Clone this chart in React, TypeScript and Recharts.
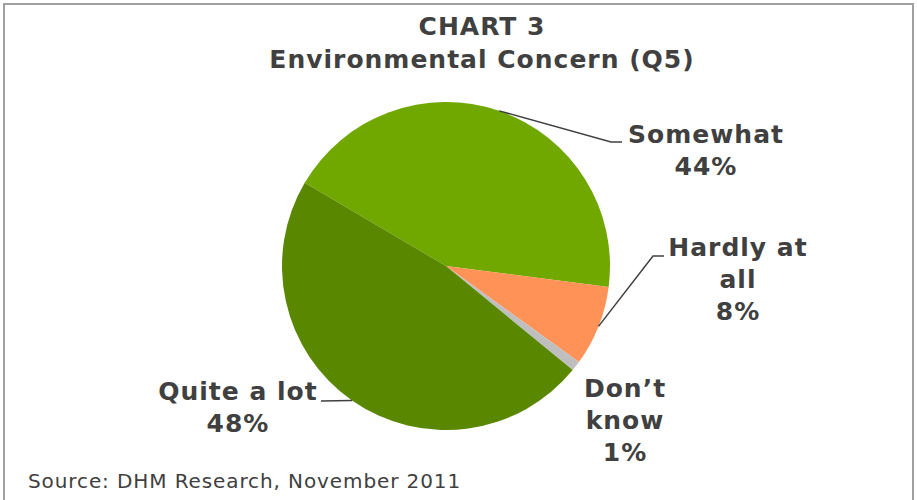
import { Pie, PieChart, Cell } from "recharts";

const categories = ["Somewhat", "Hardly at all", "Don’t know", "Quite a lot"];
const labelRows = [["Somewhat"], ["Hardly at", "all"], ["Don’t", "know"], ["Quite a lot"]];
const values = [44, 8, 1, 48];

const colors = ["#70A800", "#FF9257", "#BFBFBF", "#5A8700"];
const textColor = "#404040";
const font = "'DejaVu Sans', Verdana, sans-serif";

// label placement: text centre + first baseline, and optional leader elbow
const labelLayout = [
  { x: 706, y: 143, elbow: [611, 142], end: [622, 142] },
  { x: 738, y: 256, elbow: [653, 256], end: [664, 256] },
  { x: 625, y: 397, elbow: null, end: null },
  { x: 238, y: 400, elbow: null, end: [321, 401] },
];

const data = categories.map((name, i) => ({ name, value: values[i] }));

const RAD = Math.PI / 180;

const renderLabel = (props: any) => {
  const { cx, cy, midAngle, outerRadius, index } = props;
  const lay = labelLayout[index];
  const sx = cx + outerRadius * Math.cos(-midAngle * RAD);
  const sy = cy + outerRadius * Math.sin(-midAngle * RAD);
  const pts: number[][] = [[sx, sy]];
  if (lay.elbow) pts.push(lay.elbow);
  if (lay.end) pts.push(lay.end);
  const rows = [...labelRows[index], `${values[index]}%`];
  return (
    <g key={`lbl-${index}`}>
      {pts.length > 1 && (
        <polyline
          points={pts.map((p) => p.join(",")).join(" ")}
          fill="none"
          stroke="#404040"
          strokeWidth={1.5}
        />
      )}
      <text
        textAnchor="middle"
        fill={textColor}
        fontFamily={font}
        fontWeight="bold"
        fontSize={25}
        letterSpacing={1}
      >
        {rows.map((r, i) => (
          <tspan key={i} x={lay.x} y={lay.y + i * 32}>
            {r}
          </tspan>
        ))}
      </text>
    </g>
  );
};

export default function App() {
  return (
    <div
      style={{
        position: "absolute",
        left: 0,
        top: 0,
        width: 917,
        height: 500,
        overflow: "hidden",
        background: "#fff",
      }}
    >
      <div
        style={{
          position: "absolute",
          left: 3,
          top: 3,
          width: 907,
          height: 520,
          border: "2px solid #A0A0A0",
        }}
      />
      <div
        style={{
          position: "absolute",
          left: 32,
          top: 10,
          width: 900,
          textAlign: "center",
          fontFamily: font,
          fontWeight: "bold",
          fontSize: 25,
          lineHeight: "33px",
          letterSpacing: 1,
          color: textColor,
        }}
      >
        CHART 3
        <br />
        Environmental Concern (Q5)
      </div>
      <PieChart width={917} height={500} margin={{ top: 0, right: 0, bottom: 0, left: 0 }}>
        <Pie
          data={data}
          dataKey="value"
          nameKey="name"
          cx={446}
          cy={266}
          outerRadius={164}
          startAngle={149.5}
          endAngle={-210.5}
          stroke="none"
          label={renderLabel}
          labelLine={false}
          isAnimationActive={false}
        >
          {data.map((d, i) => (
            <Cell key={d.name} fill={colors[i]} />
          ))}
        </Pie>
      </PieChart>
      <div
        style={{
          position: "absolute",
          left: 28,
          top: 469,
          fontFamily: font,
          fontSize: 20,
          letterSpacing: 0.9,
          color: textColor,
          whiteSpace: "nowrap",
        }}
      >
        Source: DHM Research, November 2011
      </div>
    </div>
  );
}
